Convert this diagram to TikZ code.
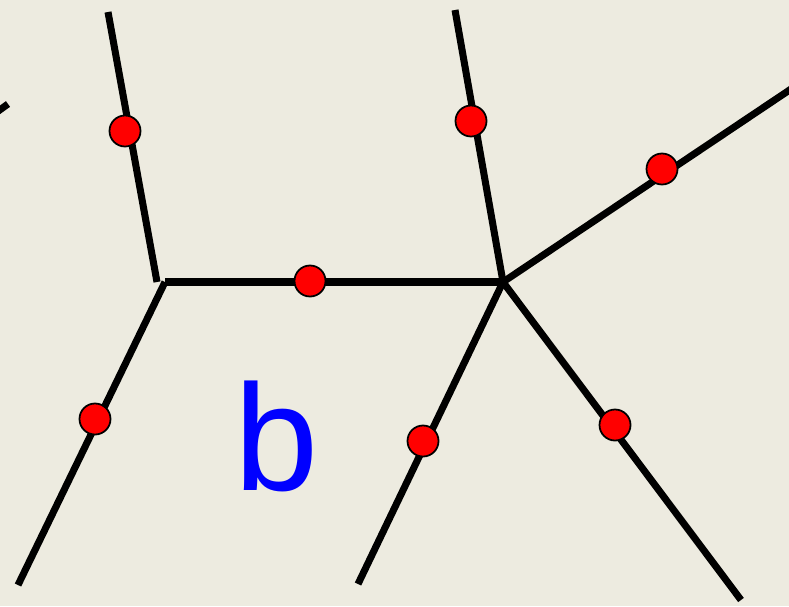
\documentclass[tikz,border=0pt]{standalone}
\usepackage{fontspec}
\setsansfont{Liberation Sans}
\usetikzlibrary{positioning}
\definecolor{paper}{RGB}{237,235,224}
\tikzset{
  edge/.style={line width=2pt, black},
  dot/.style={circle, draw=black, line width=0.5pt, fill=red, minimum size=0.31cm, inner sep=0pt},
  mark label/.style={text=blue, font=\sffamily\fontsize{43}{43}\selectfont, inner sep=0pt}
}
\begin{document}
\begin{tikzpicture}[x=0.01cm, y=-0.01cm]
      \fill[paper] (0,0) rectangle (789,606);
      \useasboundingbox (0,0) rectangle (789,606);
      \clip (0,0) rectangle (789,606);
      % vertices and free ends
      \coordinate (left top) at (157,282);
      \coordinate (left) at (165,282);
      \coordinate (right) at (503,282);
      \coordinate (end1) at (108,12);
      \coordinate (end2) at (18,585);
      \coordinate (end3) at (455,10);
      \coordinate (end4) at (800,83);
      \coordinate (end5) at (358,584);
      \coordinate (end6) at (741,600);
      \coordinate (cut a) at (-10,117);
      \coordinate (cut b) at (8,104);
      % edges
      \draw[edge] (end1) -- (left top);
      \draw[edge] (left) -- (right);
      \draw[edge] (left) -- (end2);
      \draw[edge] (end3) -- (right);
      \draw[edge] (right) -- (end4);
      \draw[edge] (right) -- (end5);
      \draw[edge] (right) -- (end6);
      \draw[edge] (cut a) -- (cut b);
      % red points
      \node[dot] (p1) at (125,131) {};
      \node[dot] (p2) at (310,281) {};
      \node[dot] (p3) at (95,419) {};
      \node[dot] (p4) at (471,121) {};
      \node[dot] (p5) at (662,169) {};
      \node[dot] (p6) at (423,441) {};
      \node[dot] (p7) at (615,425) {};
      \node[mark label] (b) at (277,436) {b};
    \end{tikzpicture}
\end{document}
